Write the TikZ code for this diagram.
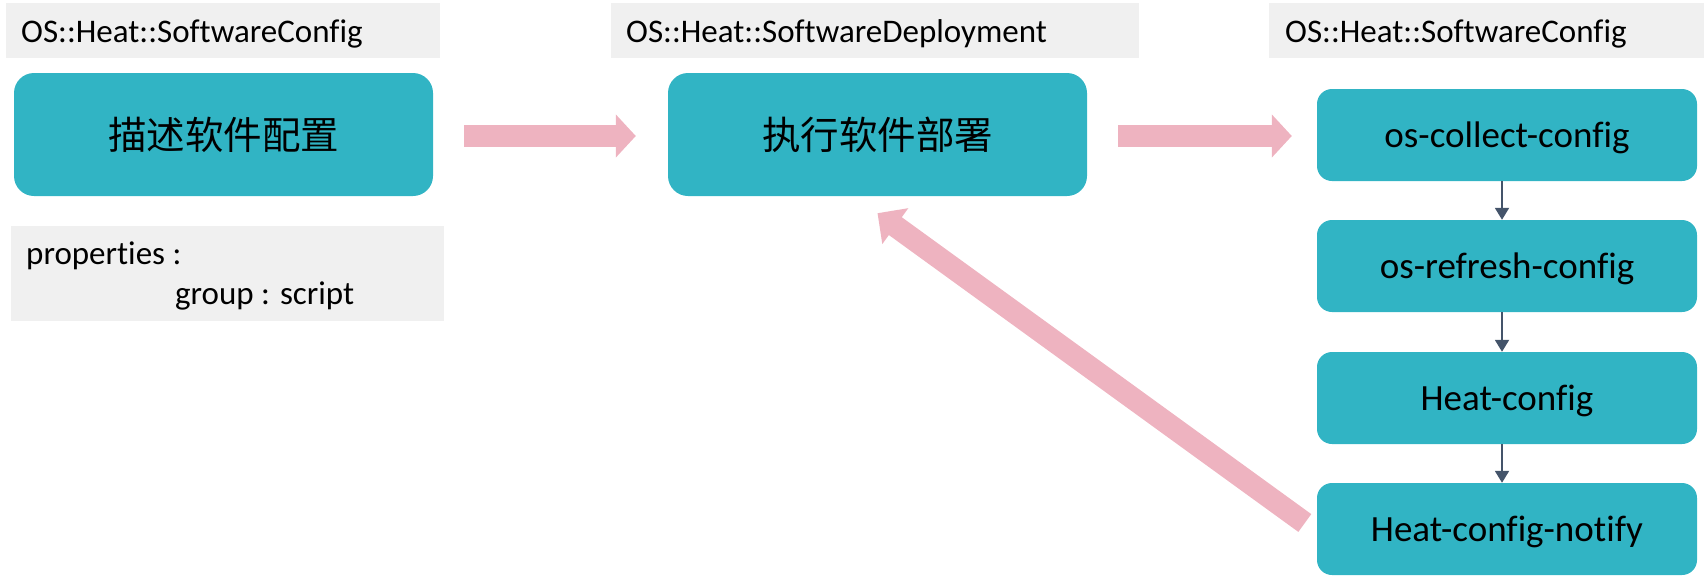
\documentclass[tikz,border=0pt]{standalone}
\usepackage{fontspec}
\setmainfont{Carlito}[Ligatures=NoCommon]
\newfontfamily\cjk{Noto Sans CJK SC}
\usetikzlibrary{arrows.meta,calc}
\definecolor{teal1}{HTML}{31B4C4}
\definecolor{pink1}{HTML}{EEB3C0}
\definecolor{gray1}{HTML}{F0F0F0}
\definecolor{dark1}{HTML}{44546A}
\tikzset{
  graylabel/.style={fill=gray1, draw=none, anchor=north west, inner sep=0pt,
    minimum height=55pt, text height=23pt, text depth=0pt,
    font=\fontsize{33}{38}\selectfont},
  bigbox/.style={fill=teal1, draw=none, rounded corners=20pt, minimum width=419pt,
    minimum height=123pt, inner sep=0pt, font=\cjk\fontsize{38.5}{44}\selectfont},
  smallbox/.style={fill=teal1, draw=none, rounded corners=15pt, minimum width=380pt,
    minimum height=92pt, inner sep=0pt, text height=25pt, text depth=0pt,
    font=\fontsize{37}{42}\selectfont},
  fatarrow/.style={draw=pink1, line width=22pt, line cap=butt,
    -{Triangle[width=42pt,length=20pt]}},
  fatarrowd/.style={draw=pink1, line width=22pt, line cap=butt,
    -{Triangle[width=43pt,length=22pt]}},
  thinarrow/.style={draw=dark1, line width=2pt,
    -{Triangle[width=14pt,length=12pt]}},
  proptext/.style={anchor=base west, inner sep=0pt, font=\fontsize{33}{38}\selectfont}
}
\begin{document}
\begin{tikzpicture}[x=1pt,y=-1pt]
\useasboundingbox (0,0) rectangle (1704,576);
% gray labels
\node[graylabel, minimum width=434pt, text width=434pt] (lab1) at (6,3) {\hspace*{15pt}OS::Heat::SoftwareConfig};
\node[graylabel, minimum width=528pt, text width=528pt] (lab2) at (611,3) {\hspace*{15pt}OS::Heat::SoftwareDeployment};
\node[graylabel, minimum width=435pt, text width=435pt] (lab3) at (1269,3) {\hspace*{16pt}OS::Heat::SoftwareConfig};
% properties box
\node[fill=gray1, draw=none, anchor=north west, inner sep=0pt, minimum width=433pt, minimum height=95pt] (props) at (11,226) {};
\node[proptext] (p1) at (26,264) {properties :};
\node[proptext] (p2) at (175,304) {group : script};
% main boxes
\node[bigbox] (box1) at (223.5,134.5) {描述软件配置};
\node[bigbox] (box2) at (877.5,134.5) {执行软件部署};
% right column
\node[smallbox] (r1) at (1507,135) {os-collect-config};
\node[smallbox] (r2) at (1507,266) {os-refresh-config};
\node[smallbox] (r3) at (1507,398) {Heat-config};
\node[smallbox] (r4) at (1507,529) {Heat-config-notify};
% pink arrows
\draw[fatarrow] ($(box1.east)+(31,1.5)$) -- ($(box2.west)+(-32,1.5)$);
\draw[fatarrow] ($(box2.east)+(31,1.5)$) -- ($(r1.west)+(-25,1)$);
\draw[fatarrowd] ($(r4.west)+(-12,-6)$) -- ($(box2.south)+(0,17)$);
% thin arrows
\draw[thinarrow] ([xshift=-5pt]r1.south) -- ([xshift=-5pt]r2.north);
\draw[thinarrow] ([xshift=-5pt]r2.south) -- ([xshift=-5pt]r3.north);
\draw[thinarrow] ([xshift=-5pt]r3.south) -- ([xshift=-5pt]r4.north);
\end{tikzpicture}
\end{document}
